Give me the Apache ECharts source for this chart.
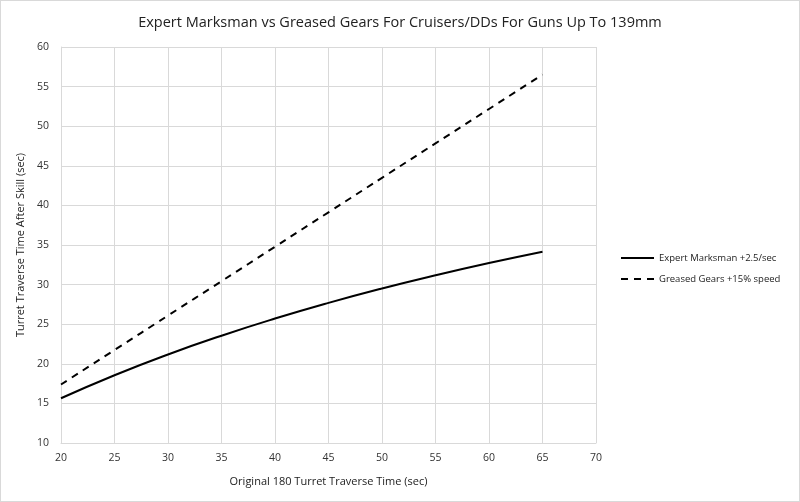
<!DOCTYPE html>
<html><head><meta charset="utf-8">
<script src="https://cdn.jsdelivr.net/npm/echarts@6/dist/echarts.min.js"></script>
<style>html,body{margin:0;padding:0;background:#fff}#c{width:800px;height:502px;box-sizing:border-box;border:1px solid #d9d9d9}</style>
</head><body><div id="c"></div>
<script>
const originalTimes = [20,25,30,35,40,45,50,55,60,65];
const expertMarksman = [15.65,18.56,21.18,23.55,25.71,27.69,29.51,31.18,32.73,34.16];
const greasedGears = [17.39,21.74,26.09,30.43,34.78,39.13,43.48,47.83,52.17,56.52];
const seriesNames = ['Expert Marksman +2.5/sec','Greased Gears +15% speed'];
const titleText = 'Expert Marksman vs Greased Gears For Cruisers/DDs For Guns Up To 139mm';

const font = 'Open Sans, Liberation Sans, sans-serif';
const chart = echarts.init(document.getElementById('c'), null, {renderer:'canvas'});
const gridLine = {show:true, lineStyle:{color:'#d9d9d9', width:1}};
chart.setOption({
  animation:false,
  title:{text:titleText, left:'center', top:9, textStyle:{fontFamily:font, fontSize:14.5, fontWeight:'normal', color:'#222'}},
  grid:{left:60, right:203, top:46, bottom:58},
  legend:{orient:'vertical', left:614, top:247, itemGap:11, itemWidth:33, itemHeight:12,
    itemStyle:{color:'transparent', borderColor:'transparent', borderWidth:0},
    textStyle:{fontFamily:font, fontSize:9.5, color:'#222'},
    data:seriesNames},
  xAxis:{type:'value', min:20, max:70, interval:5,
    name:'Original 180 Turret Traverse Time (sec)', nameLocation:'middle', nameGap:33,
    nameTextStyle:{fontFamily:font, fontSize:11, color:'#222'},
    axisLine:{show:true, lineStyle:{color:'#d9d9d9'}}, axisTick:{show:false},
    axisLabel:{fontFamily:font, fontSize:10.5, color:'#333', margin:10},
    splitLine:gridLine},
  yAxis:{type:'value', min:10, max:60, interval:5,
    name:'Turret Traverse Time After Skill (sec)', nameLocation:'middle', nameGap:34,
    nameTextStyle:{fontFamily:font, fontSize:11, color:'#222'},
    axisLine:{show:true, lineStyle:{color:'#d9d9d9'}}, axisTick:{show:false},
    axisLabel:{fontFamily:font, fontSize:10.5, color:'#333', margin:12},
    splitLine:gridLine},
  series:[
    {name:seriesNames[0], type:'line', smooth:true, symbol:'none',
     lineStyle:{color:'#000', width:2}, itemStyle:{color:'#000'},
     data:originalTimes.map((x,i)=>[x, expertMarksman[i]])},
    {name:seriesNames[1], type:'line', smooth:true, symbol:'none',
     lineStyle:{color:'#000', width:2, type:[7,6]}, itemStyle:{color:'#000'},
     data:originalTimes.map((x,i)=>[x, greasedGears[i]])}
  ]
});
</script></body></html>
